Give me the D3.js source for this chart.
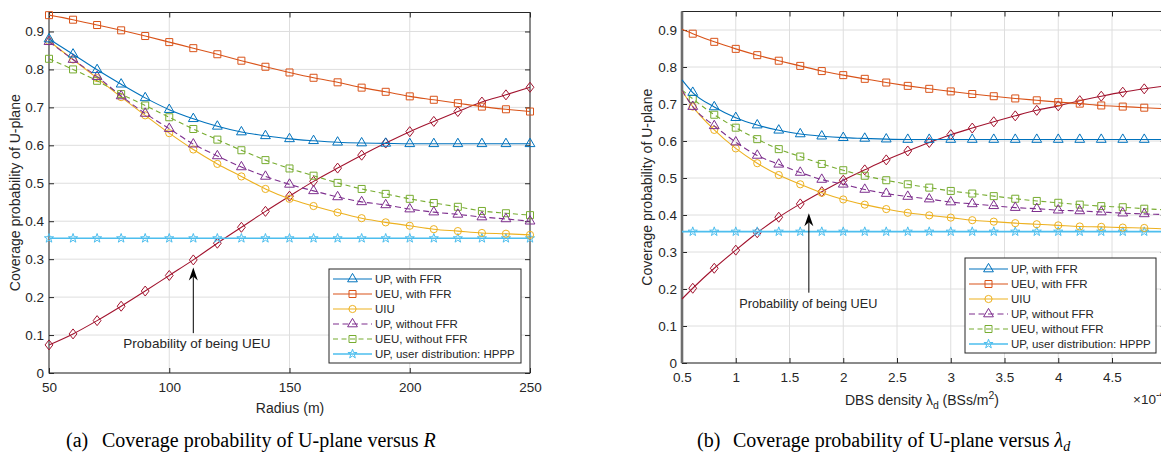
<!DOCTYPE html>
<html>
<head>
<meta charset="utf-8">
<script src="https://cdn.jsdelivr.net/npm/d3@7"></script>
<style>
  body { margin: 0; background: #fff; }
  svg { display: block; }
  text { font-family: "Liberation Sans", Arial, Helvetica, sans-serif; fill: #262626; }
  text.cap { font-family: "Liberation Serif", "Times New Roman", serif; fill: #000; }
</style>
</head>
<body>
<svg id="fig" width="1161" height="454"></svg>
<script>
// ---------- (a) coverage probability versus radius R ----------
const radius = [50, 60, 70, 80, 90, 100, 110, 120, 130, 140, 150, 160, 170, 180, 190, 200, 210, 220, 230, 240, 250];
const upFfrR    = [0.880, 0.840, 0.799, 0.761, 0.725, 0.694, 0.670, 0.650, 0.635, 0.625, 0.617, 0.612, 0.608, 0.606, 0.605, 0.604, 0.604, 0.604, 0.604, 0.604, 0.604];
const ueuFfrR   = [0.943, 0.931, 0.917, 0.903, 0.888, 0.872, 0.856, 0.840, 0.823, 0.807, 0.792, 0.778, 0.766, 0.752, 0.741, 0.729, 0.720, 0.711, 0.702, 0.695, 0.689];
const uiuR      = [0.875, 0.826, 0.777, 0.727, 0.679, 0.632, 0.589, 0.551, 0.518, 0.485, 0.459, 0.440, 0.423, 0.408, 0.397, 0.388, 0.379, 0.374, 0.369, 0.367, 0.364];
const upNoFfrR  = [0.873, 0.826, 0.781, 0.730, 0.684, 0.644, 0.603, 0.572, 0.543, 0.518, 0.497, 0.480, 0.464, 0.451, 0.443, 0.432, 0.424, 0.418, 0.411, 0.406, 0.400];
const ueuNoFfrR = [0.828, 0.800, 0.770, 0.735, 0.705, 0.674, 0.643, 0.615, 0.587, 0.561, 0.539, 0.520, 0.501, 0.485, 0.472, 0.459, 0.448, 0.438, 0.427, 0.421, 0.416];
const hpppR     = [0.355, 0.355, 0.355, 0.355, 0.355, 0.355, 0.355, 0.355, 0.355, 0.355, 0.355, 0.355, 0.355, 0.355, 0.355, 0.355, 0.355, 0.355, 0.355, 0.355, 0.355];
const pUeuR     = [0.074, 0.103, 0.138, 0.176, 0.216, 0.257, 0.298, 0.342, 0.384, 0.426, 0.466, 0.505, 0.540, 0.574, 0.606, 0.636, 0.663, 0.689, 0.714, 0.733, 0.753];
const radiusTicks = [50, 100, 150, 200, 250];
const radiusTickLabels = ["50", "100", "150", "200", "250"];

// ---------- (b) coverage probability versus DBS density (x 10^-4) ----------
const density = [0.5, 0.6, 0.8, 1.0, 1.2, 1.4, 1.6, 1.8, 2.0, 2.2, 2.4, 2.6, 2.8, 3.0, 3.2, 3.4, 3.6, 3.8, 4.0, 4.2, 4.4, 4.6, 4.8, 5.0];
const upFfrL    = [0.765, 0.731, 0.692, 0.663, 0.643, 0.629, 0.619, 0.613, 0.609, 0.607, 0.605, 0.604, 0.604, 0.604, 0.604, 0.604, 0.604, 0.604, 0.604, 0.604, 0.604, 0.604, 0.604, 0.604];
const ueuFfrL   = [0.902, 0.890, 0.868, 0.849, 0.832, 0.817, 0.803, 0.789, 0.778, 0.768, 0.758, 0.749, 0.741, 0.734, 0.727, 0.721, 0.715, 0.710, 0.705, 0.701, 0.696, 0.693, 0.690, 0.687];
const uiuL      = [0.735, 0.693, 0.630, 0.580, 0.540, 0.508, 0.483, 0.460, 0.442, 0.428, 0.416, 0.406, 0.399, 0.393, 0.386, 0.382, 0.378, 0.375, 0.372, 0.369, 0.368, 0.366, 0.365, 0.362];
const upNoFfrL  = [0.737, 0.693, 0.641, 0.597, 0.561, 0.537, 0.515, 0.496, 0.483, 0.469, 0.458, 0.450, 0.443, 0.435, 0.430, 0.425, 0.420, 0.417, 0.413, 0.411, 0.408, 0.405, 0.403, 0.401];
const ueuNoFfrL = [0.738, 0.714, 0.671, 0.636, 0.605, 0.578, 0.558, 0.538, 0.521, 0.506, 0.494, 0.483, 0.474, 0.465, 0.458, 0.451, 0.444, 0.438, 0.433, 0.428, 0.424, 0.421, 0.417, 0.414];
const hpppL     = [0.355, 0.355, 0.355, 0.355, 0.355, 0.355, 0.355, 0.355, 0.355, 0.355, 0.355, 0.355, 0.355, 0.355, 0.355, 0.355, 0.355, 0.355, 0.355, 0.355, 0.355, 0.355, 0.355, 0.355];
const pUeuL     = [0.173, 0.202, 0.256, 0.305, 0.352, 0.394, 0.430, 0.463, 0.494, 0.522, 0.549, 0.573, 0.596, 0.617, 0.635, 0.652, 0.668, 0.683, 0.695, 0.709, 0.721, 0.732, 0.741, 0.749];
const densityTicks = [0.5, 1, 1.5, 2, 2.5, 3, 3.5, 4, 4.5, 5];
// the last tick sits on the right border, beyond the visible area, so it carries no label
const densityTickLabels = ["0.5", "1", "1.5", "2", "2.5", "3", "3.5", "4", "4.5", ""];

const yTicks = [0, 0.1, 0.2, 0.3, 0.4, 0.5, 0.6, 0.7, 0.8, 0.9];
const yTickLabels = ["0", "0.1", "0.2", "0.3", "0.4", "0.5", "0.6", "0.7", "0.8", "0.9"];
const legendLabels = ["UP, with FFR", "UEU, with FFR", "UIU", "UP, without FFR", "UEU, without FFR", "UP, user distribution: HPPP"];

// MATLAB default colour order
const C = { blue: "#0072BD", orange: "#D95319", yellow: "#EDB120", purple: "#7E2F8E", green: "#77AC30", cyan: "#4DBEEE", red: "#A2142F" };

// marker glyphs, centred on the data point
function starPath(R, r) {
  let p = "";
  for (let k = 0; k < 10; k++) {
    const a = -Math.PI / 2 + k * Math.PI / 5;
    const rad = k % 2 === 0 ? R : r;
    p += (k === 0 ? "M" : "L") + (rad * Math.cos(a)).toFixed(2) + "," + (rad * Math.sin(a)).toFixed(2);
  }
  return p + "Z";
}
const markerPath = {
  tri: "M0,-5.6L4.9,2.8L-4.9,2.8Z",
  square: "M-3.5,-3.5h7v7h-7Z",
  circle: "M3.6,0A3.6,3.6 0 1,1 -3.6,0A3.6,3.6 0 1,1 3.6,0Z",
  diamond: "M0,-5L3.9,0L0,5L-3.9,0Z",
  star: starPath(4.8, 1.9)
};

const svg = d3.select("#fig");

function drawPanel(p) {
  const x = d3.scaleLinear().domain(p.xDomain).range([p.left, p.right]);
  const y = d3.scaleLinear().domain([0, 0.95]).range([p.bottom, p.top]);
  const g = svg.append("g");

  // grid
  g.append("g").selectAll("line").data(p.xTicks).join("line")
    .attr("x1", d => x(d)).attr("x2", d => x(d)).attr("y1", p.top).attr("y2", p.bottom)
    .attr("stroke", "#dedede").attr("stroke-width", 1);
  g.append("g").selectAll("line").data(yTicks).join("line")
    .attr("x1", p.left).attr("x2", p.right).attr("y1", d => y(d)).attr("y2", d => y(d))
    .attr("stroke", "#dedede").attr("stroke-width", 1);

  // axes with inward ticks
  const ax = g.append("g").attr("transform", `translate(0,${p.bottom})`)
    .call(d3.axisBottom(x).tickValues(p.xTicks).tickFormat((d, i) => p.xTickLabels[i]).tickSize(-5).tickPadding(9));
  const ay = g.append("g").attr("transform", `translate(${p.left},0)`)
    .call(d3.axisLeft(y).tickValues(yTicks).tickFormat((d, i) => yTickLabels[i]).tickSize(-5).tickPadding(5));
  const at = g.append("g").attr("transform", `translate(0,${p.top})`)
    .call(d3.axisTop(x).tickValues(p.xTicks).tickFormat("").tickSize(-5));
  const ar = g.append("g").attr("transform", `translate(${p.right},0)`)
    .call(d3.axisRight(y).tickValues(yTicks).tickFormat("").tickSize(-5));
  [ax, ay, at, ar].forEach(a => {
    a.select(".domain").remove();
    a.selectAll("line").attr("stroke", "#262626");
    a.selectAll("text").attr("font-size", 13.5).attr("fill", "#262626")
      .style("font-family", '"Liberation Sans", Arial, Helvetica, sans-serif');
    a.selectAll("text").filter(function () { return this.textContent === ""; }).remove();
  });

  // box
  g.append("rect").attr("x", p.left).attr("y", p.top)
    .attr("width", p.right - p.left).attr("height", p.bottom - p.top)
    .attr("fill", "none").attr("stroke", "#262626").attr("stroke-width", 1);
  if (p.leftAxisWide) {
    g.append("line").attr("x1", p.left).attr("x2", p.left).attr("y1", p.top).attr("y2", p.bottom)
      .attr("stroke", "#6e6e6e").attr("stroke-width", 2.6);
  }

  // series
  const line = d3.line().x(d => x(d[0])).y(d => y(d[1])).curve(d3.curveMonotoneX);
  p.series.forEach(s => {
    const pts = p.xs.map((v, i) => [v, s.values[i]]);
    g.append("path").datum(pts).attr("d", line)
      .attr("fill", "none").attr("stroke", s.color).attr("stroke-width", s.width || 1.1)
      .attr("stroke-dasharray", s.dash || null);
    g.append("g").selectAll("path").data(pts.filter((d, i) => p.markerAt(i, pts.length))).join("path")
      .attr("transform", d => `translate(${x(d[0])},${y(d[1])})`)
      .attr("d", markerPath[s.marker]).attr("fill", "none")
      .attr("stroke", s.color).attr("stroke-width", 1);
  });

  // annotation arrow and text
  const a = p.arrow;
  const ax0 = x(a.x), yTip = y(a.to), yTail = y(a.from);
  g.append("line").attr("x1", ax0).attr("x2", ax0).attr("y1", yTail).attr("y2", yTip + 9)
    .attr("stroke", "#000").attr("stroke-width", 1);
  g.append("path").attr("d", `M${ax0},${yTip}L${ax0 + 4.5},${yTip + 13}L${ax0},${yTip + 9}L${ax0 - 4.5},${yTip + 13}Z`)
    .attr("fill", "#000");
  g.append("text").attr("x", x(a.textX)).attr("y", y(a.textY)).attr("dy", "0.35em")
    .attr("text-anchor", "middle").attr("font-size", a.fontSize).attr("fill", "#000")
    .text("Probability of being UEU");

  // legend
  const L = p.legend;
  const lg = g.append("g");
  lg.append("rect").attr("x", L.x).attr("y", L.y).attr("width", L.w).attr("height", L.h)
    .attr("fill", "#fff").attr("stroke", "#262626").attr("stroke-width", 1);
  p.series.filter(s => s.legend !== undefined).forEach(s => {
    const cy = L.y + L.firstRow + s.legend * 15;
    lg.append("line").attr("x1", L.x + 4).attr("x2", L.x + 43).attr("y1", cy).attr("y2", cy)
      .attr("stroke", s.color).attr("stroke-width", s.width || 1.1).attr("stroke-dasharray", s.dash || null);
    lg.append("path").attr("transform", `translate(${L.x + 23.5},${cy})`).attr("d", markerPath[s.marker])
      .attr("fill", "none").attr("stroke", s.color).attr("stroke-width", 1);
    lg.append("text").attr("x", L.x + 46).attr("y", cy).attr("dy", "0.36em")
      .attr("font-size", 11.5).attr("fill", "#000").text(legendLabels[s.legend]);
  });

  // y label
  g.append("text").attr("transform", `translate(${p.yLabelX},${(p.top + p.bottom) / 2}) rotate(-90)`)
    .attr("text-anchor", "middle").attr("dy", "0.35em").attr("font-size", 14)
    .text("Coverage probability of U-plane");

  return { x, y, g };
}

function seriesFor(v) {
  return [
    { values: v[6], color: C.red, marker: "diamond" },
    { values: v[5], color: C.cyan, marker: "star", width: 1.6, legend: 5 },
    { values: v[2], color: C.yellow, marker: "circle", legend: 2 },
    { values: v[4], color: C.green, marker: "square", dash: "5,3.5", legend: 4 },
    { values: v[3], color: C.purple, marker: "tri", dash: "6,3.5", legend: 3 },
    { values: v[1], color: C.orange, marker: "square", legend: 1 },
    { values: v[0], color: C.blue, marker: "tri", legend: 0 }
  ];
}

// panel (a)
const pa = drawPanel({
  left: 49, right: 530, top: 12.5, bottom: 373,
  xDomain: [50, 250], xTicks: radiusTicks, xTickLabels: radiusTickLabels, xs: radius,
  series: seriesFor([upFfrR, ueuFfrR, uiuR, upNoFfrR, ueuNoFfrR, hpppR, pUeuR]),
  markerAt: () => true,
  arrow: { x: 110, from: 0.105, to: 0.278, textX: 111.5, textY: 0.079, fontSize: 13.5 },
  legend: { x: 329, y: 269, w: 192, h: 94, firstRow: 10 },
  yLabelX: 15
});
pa.g.append("text").attr("x", 290).attr("y", 408).attr("dy", "0.35em").attr("text-anchor", "middle")
  .attr("font-size", 14).text("Radius (m)");

// panel (b)
const pb = drawPanel({
  left: 682, right: 1165.75, top: 11.5, bottom: 363,
  xDomain: [0.5, 5], xTicks: densityTicks, xTickLabels: densityTickLabels, xs: density,
  series: seriesFor([upFfrL, ueuFfrL, uiuL, upNoFfrL, ueuNoFfrL, hpppL, pUeuL]),
  markerAt: (i, n) => i > 0 && i < n - 1,
  arrow: { x: 1.68, from: 0.19, to: 0.405, textX: 1.675, textY: 0.162, fontSize: 12.7 },
  legend: { x: 965, y: 258, w: 191, h: 95, firstRow: 11 },
  leftAxisWide: true,
  yLabelX: 647
});
const xl = pb.g.append("text").attr("x", 922).attr("y", 405).attr("text-anchor", "middle").attr("font-size", 14);
xl.append("tspan").text("DBS density ");
xl.append("tspan").text("λ");
xl.append("tspan").attr("dy", 4).attr("font-size", 10.5).text("d");
xl.append("tspan").attr("dy", -4).text(" (BSs/m");
xl.append("tspan").attr("dy", -6).attr("font-size", 10.5).text("2");
xl.append("tspan").attr("dy", 6).text(")");
const ex = pb.g.append("text").attr("x", 1133).attr("y", 404).attr("font-size", 13.5);
ex.append("tspan").text("×10");
ex.append("tspan").attr("dy", -6).attr("font-size", 10).text("-4");

// sub-captions
svg.append("text").attr("class", "cap").attr("x", 66).attr("y", 447).attr("font-size", 20).text("(a)");
const ca = svg.append("text").attr("class", "cap").attr("x", 102).attr("y", 447).attr("font-size", 20);
ca.append("tspan").text("Coverage probability of U-plane versus ");
ca.append("tspan").attr("font-style", "italic").text("R");

svg.append("text").attr("class", "cap").attr("x", 697).attr("y", 447).attr("font-size", 20).text("(b)");
const cb = svg.append("text").attr("class", "cap").attr("x", 733).attr("y", 447).attr("font-size", 20);
cb.append("tspan").text("Coverage probability of U-plane versus ");
cb.append("tspan").attr("font-style", "italic").text("λ");
cb.append("tspan").attr("font-style", "italic").attr("dy", 4).attr("font-size", 14).text("d");
</script>
</body>
</html>
